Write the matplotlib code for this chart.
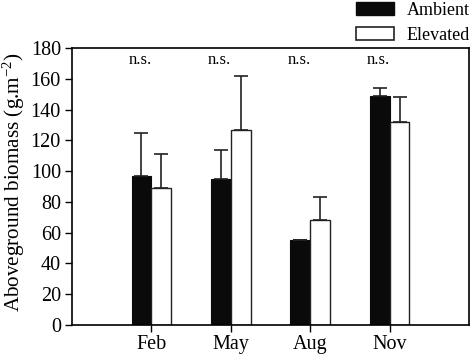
import matplotlib
matplotlib.use("Agg")
import matplotlib.pyplot as plt
import numpy as np
from matplotlib.patches import Patch

months = ["Feb", "May", "Aug", "Nov"]
ambient = [97, 95, 55, 149]
ambient_err = [28, 19, 0.5, 5]
elevated = [89, 127, 68, 132]
elevated_err = [22, 35, 15, 16]
sig = ["n.s.", "n.s.", "n.s.", "n.s."]

plt.rcParams['font.family'] = ['Liberation Serif', 'DejaVu Serif']
plt.rcParams['mathtext.fontset'] = 'custom'
plt.rcParams['mathtext.rm'] = 'Liberation Serif'
plt.rcParams['mathtext.it'] = 'Liberation Serif:italic'

fig = plt.figure(figsize=(4.74, 3.56), dpi=100)
ax = fig.add_axes([72/474, 1-325/356, (469-72)/474, (325-48)/356])

x = np.arange(1, len(months)+1)
w = 0.25
ax.bar(x - w/2, ambient, w, color='#0a0a0a', edgecolor='#0a0a0a', linewidth=0.8,
       yerr=[np.zeros(4), ambient_err], capsize=5, error_kw=dict(elinewidth=1.2, capthick=1.2, ecolor='#222222'))
ax.bar(x + w/2, elevated, w, color='white', edgecolor='#222222', linewidth=1.0,
       yerr=[np.zeros(4), elevated_err], capsize=5, error_kw=dict(elinewidth=1.2, capthick=1.2, ecolor='#222222'))

for xi, s in zip(x, sig):
    ax.text(xi - 0.14, 172, s, ha='center', va='center', fontsize=12)

ax.set_xlim(0, 5)
ax.set_ylim(0, 180)
ax.set_yticks(range(0, 181, 20))
ax.set_xticks(x)
ax.set_xticklabels(months, fontsize=14.5)
ax.tick_params(axis='y', labelsize=14.5, direction='out', length=5, width=1, pad=3)
ax.tick_params(axis='x', direction='out', length=5, width=1, pad=2)
ax.set_ylabel("Aboveground biomass (g.m$^{\\mathrm{-2}}$)", fontsize=15.2)
ax.yaxis.set_label_coords(-0.113, 0.516)
for sp in ax.spines.values():
    sp.set_linewidth(1.2)

handles = [Patch(facecolor='#0a0a0a', edgecolor='#0a0a0a', label='Ambient'),
           Patch(facecolor='white', edgecolor='#222222', linewidth=1.2, label='Elevated')]
fig.legend(handles=handles, loc='upper left', bbox_to_anchor=(354/474, 1.0), frameon=False,
           borderpad=0, borderaxespad=0.1,
           fontsize=13, handlelength=2.1, handleheight=0.75, labelspacing=0.45, handletextpad=0.7)

fig.savefig("out.png", dpi=100)
